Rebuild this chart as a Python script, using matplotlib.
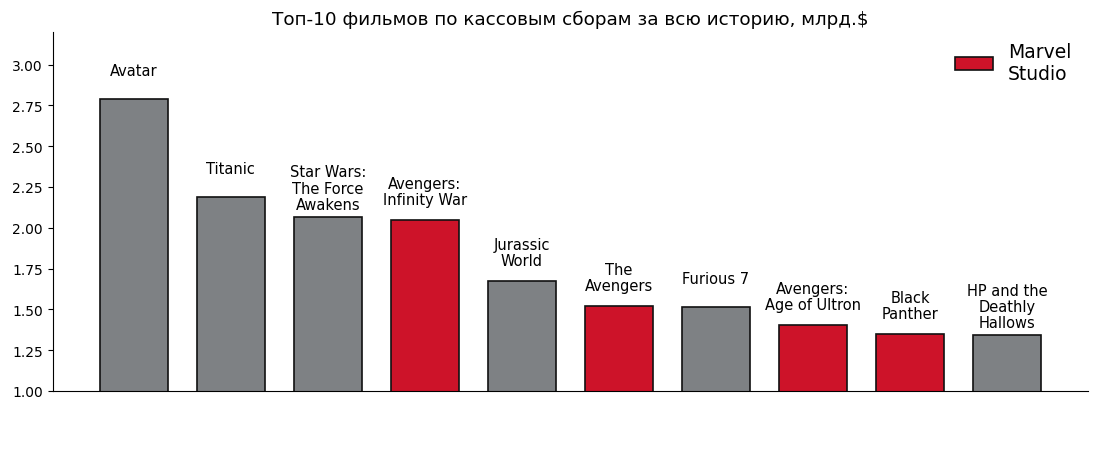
import matplotlib
matplotlib.use('Agg')
import matplotlib.pyplot as plt
from matplotlib.patches import Patch

# Top-10 box office films, billions $
films = ['Avatar', 'Titanic', 'Star Wars:\nThe Force\nAwakens',
         'Avengers:\nInfinity War', 'Jurassic\nWorld', 'The\nAvengers',
         'Furious 7', 'Avengers:\nAge of Ultron', 'Black\nPanther',
         'HP and the\nDeathly\nHallows']
gross = [2.788, 2.187, 2.068, 2.048, 1.671, 1.518, 1.516, 1.405, 1.347, 1.342]
is_marvel = [False, False, False, True, False, True, False, True, True, False]

GRAY = '#7e8184'
RED = '#cd1329'


def main():
    fig = plt.figure(figsize=(10.98, 4.52), dpi=100)
    ax = fig.add_axes([0.048, 0.133, 0.943, 0.794])

    x = list(range(len(films)))
    colors = [RED if m else GRAY for m in is_marvel]
    ax.bar(x, gross, width=0.7, color=colors, edgecolor='#111111',
           linewidth=1.2, bottom=0)

    # labels above bars
    for xi, h, name in zip(x, gross, films):
        ax.text(xi, h + 0.175, name, ha='center', va='center',
                fontsize=10.5, linespacing=1.1)

    ax.set_ylim(1.0, 3.2)
    ax.set_yticks([1.0, 1.25, 1.5, 1.75, 2.0, 2.25, 2.5, 2.75, 3.0])
    ax.set_yticklabels(['%.2f' % v for v in ax.get_yticks()])
    ax.tick_params(axis='y', labelsize=10)
    ax.set_xticks([])
    ax.spines['top'].set_visible(False)
    ax.spines['right'].set_visible(False)

    ax.set_title('Топ-10 фильмов по кассовым сборам за всю историю, млрд.$',
                 fontsize=13.2, pad=6)

    handle = Patch(facecolor=RED, edgecolor='#111111', linewidth=1.2)
    ax.legend([handle], ['Marvel\nStudio'], loc='upper right', frameon=False,
              fontsize=13.5, bbox_to_anchor=(1.0, 1.02), handlelength=2.0,
              labelspacing=0.3)

    fig.savefig('out.png', dpi=100)
    plt.close(fig)


if __name__ == '__main__':
    main()
